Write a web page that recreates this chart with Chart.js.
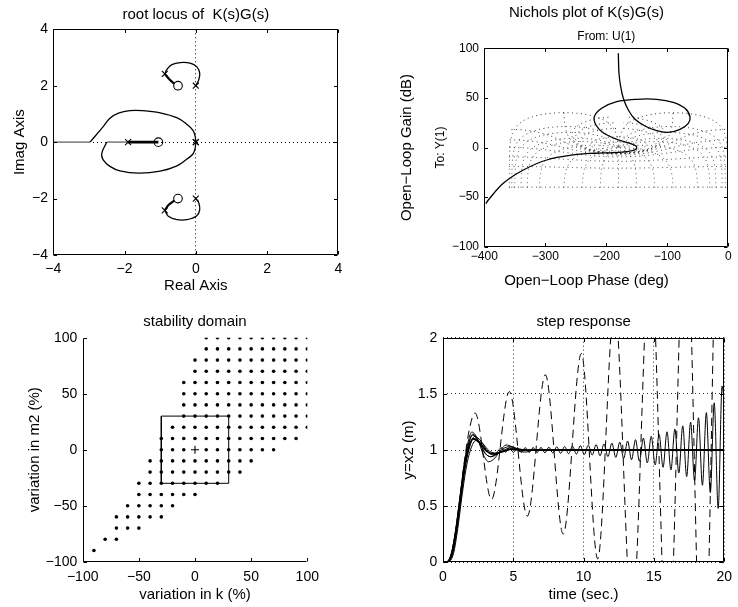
<!DOCTYPE html>
<html>
<head>
<meta charset="utf-8">
<title>Controller analysis</title>
<script src="https://cdn.jsdelivr.net/npm/chart.js@4.4.1/dist/chart.umd.min.js"></script>
<style>
html, body { margin: 0; padding: 0; background: #fff; overflow: hidden; }
#wrap { position: relative; width: 738px; height: 607px; overflow: hidden; background: #fff; }
#wrap canvas { position: absolute; }
</style>
</head>
<body>
<div id="wrap">
  <canvas id="c1" width="369" height="300" style="left:0px;top:0px;width:369px;height:300px;"></canvas>
  <canvas id="c2" width="377" height="300" style="left:398px;top:0px;width:377px;height:300px;"></canvas>
  <canvas id="c3" width="369" height="307" style="left:0px;top:300px;width:369px;height:307px;"></canvas>
  <canvas id="c4" width="369" height="307" style="left:369px;top:300px;width:369px;height:307px;"></canvas>
</div>
<script>
// ================= DATA =================
// --- root locus ---
const rlTicks = [-4, -2, 0, 2, 4];
const rlPoles = [[0,0],[0,0],[0,2],[0,-2],[-0.87,2.42],[-0.87,-2.42],[-1.9,0]];
const rlZeros = [[-1.05,0],[-0.5,2],[-0.5,-2]];
const rlLoopUpper = [[0,0],[-0.02,0.22],[-0.08,0.42],[-0.24,0.62],[-0.52,0.86],[-1.0,1.04],[-1.5,1.12],[-1.85,1.12],[-2.17,1.03],[-2.41,0.85],[-2.6,0.55],[-2.97,0]];
const rlLoopLower = [[0,0],[-0.02,-0.22],[-0.08,-0.42],[-0.25,-0.6],[-0.53,-0.84],[-1.0,-1.03],[-1.6,-1.1],[-2.13,-1.02],[-2.41,-0.86],[-2.6,-0.63],[-2.64,-0.4],[-2.5,0]];
const rlRealThick = [[-1.9,0],[-1.05,0]];
const rlRealLeft = [[-4,0],[-2.97,0]];
const rlRealMid = [[-2.5,0],[-1.9,0]];
const rlSmallUpper = [[0,2],[0.08,2.2],[0.11,2.44],[0.03,2.67],[-0.16,2.8],[-0.44,2.82],[-0.67,2.75],[-0.81,2.58],[-0.87,2.42]];
const rlSmallUpperEnd = [[-0.87,2.42],[-0.73,2.21],[-0.6,2.07]];
const rlSmallLower = [[0,-2],[0.08,-2.14],[0.11,-2.4],[0.02,-2.62],[-0.25,-2.75],[-0.53,-2.75],[-0.77,-2.63],[-0.87,-2.42]];
const rlSmallLowerEnd = [[-0.87,-2.42],[-0.76,-2.22],[-0.6,-2.07]];

// --- Nichols ---
const nicTicksX = [-400, -300, -200, -100, 0];
const nicTicksY = [-100, -50, 0, 50, 100];
const nicCurve = [[-180.3,95],[-179.2,74.8],[-176.4,61.3],[-172.1,49.6],[-163.9,37.8],[-152.9,28.4],[-136.6,21.7],[-117.4,16.9],[-98.4,15.3],[-79.2,18.3],[-65.6,24.4],[-62.8,31.0],[-71.0,39.5],[-90.2,45.6],[-117.4,48.6],[-150.2,48.6],[-183,46.2],[-207.6,39.5],[-219.7,31.0],[-216.9,22.7],[-205,14.9],[-183,8.3],[-161.2,4.2],[-151.3,1.5],[-151.3,-1.8],[-166.6,-4.2],[-188.5,-5.2],[-218.5,-5.8],[-254,-7.5],[-297.7,-12.6],[-336,-22.7],[-368.9,-36.1],[-393.4,-52.9],[-397.5,-56.5]];
// Nichols chart grid levels (closed-loop gain in dB, closed-loop phase in deg)
const ngridGainDb = [6, 3, 1, 0.5, 0.25, 0, -1, -3, -6, -12, -20, -40];
const ngridPhaseDeg = [1, 5, 10, 20, 30, 50, 90, 120, 150, 180];

// --- stability domain ---
const stabTicks = [-100, -50, 0, 50, 100];
const stabRowM = [100, 90, 80, 70, 60, 50, 40, 30, 20, 10, 0, -10, -20, -30, -40, -50, -60, -70, -80, -90];
const stabRowK = [
  [10,20,30,40,50,60,70,80,90,100],
  [10,20,30,40,50,60,70,80,90,100],
  [0,10,20,30,40,50,60,70,80,90,100],
  [0,10,20,30,40,50,60,70,80,90,100],
  [-10,0,10,20,30,40,50,60,70,80,90,100],
  [-10,0,10,20,30,40,50,60,70,80,90,100],
  [-10,0,10,20,30,40,50,60,70,80,90,100],
  [-10,0,10,20,30,40,50,60,70,80,90,100],
  [-20,-10,0,10,20,30,40,50,60,70,80,90,100],
  [-30,-20,-10,0,10,20,30,40,50,60,70,80,90],
  [-30,-20,-10,10,20,30,40,50,60,70],
  [-40,-30,-20,-10,0,10,20,30,40,50],
  [-40,-30,-20,-10,0,10,20,30,40],
  [-50,-40,-30,-20,-10,0,10,20],
  [-50,-40,-30,-20,-10,0],
  [-60,-50,-40,-30,-20],
  [-70,-60,-50,-40,-30],
  [-70,-60,-50],
  [-80,-70],
  [-90]
];
const stabBox = [[-30,-30],[30,-30],[30,30],[-30,30],[-30,-30]];
const stabNominal = [[0,0]];

// --- step response ---
const stepTicksX = [0, 5, 10, 15, 20];
const stepTicksY = [0, 0.5, 1, 1.5, 2];
const stepNominal = [[0,0],[0.3,0.004],[0.6,0.07],[0.9,0.26],[1.2,0.54],[1.5,0.82],[1.8,1.01],[2.15,1.1],[2.6,1.065],[3.1,0.99],[3.6,0.965],[4.2,0.985],[4.9,1.008],[5.6,1.0],[6.5,0.998],[20,1.0]];
const stepA = [[0,0],[0.3,0.004],[0.6,0.08],[0.9,0.29],[1.2,0.58],[1.5,0.87],[1.8,1.08],[2.05,1.16],[2.45,1.1],[2.9,0.95],[3.25,0.895],[3.7,0.93],[4.1,1.0],[4.5,1.045],[4.9,1.03],[5.4,0.99],[5.9,0.982],[6.6,1.005],[7.4,1.0],[20,1.0]];
const stepB = [[0,0],[0.35,0.004],[0.65,0.07],[0.95,0.27],[1.25,0.56],[1.55,0.85],[1.85,1.06],[2.1,1.14],[2.5,1.09],[3.0,0.97],[3.45,0.94],[3.9,0.97],[4.4,1.02],[4.85,1.03],[5.4,1.005],[6.0,0.995],[7.0,1.002],[20,1.0]];
const stepC = [[0,0],[0.35,0.003],[0.7,0.08],[1.0,0.3],[1.3,0.6],[1.6,0.86],[1.9,1.03],[2.25,1.12],[2.7,1.08],[3.2,0.98],[3.65,0.955],[4.2,0.99],[4.8,1.02],[5.4,1.01],[6.2,0.995],[7.2,1.0],[20,1.0]];
const stepD = [[0,0],[0.4,0.004],[0.75,0.08],[1.05,0.3],[1.35,0.59],[1.65,0.84],[1.95,1.0],[2.35,1.085],[2.8,1.06],[3.3,0.99],[3.8,0.972],[4.4,0.99],[5.0,1.01],[5.8,1.0],[20,1.0]];
const stepUnstable = [[0,0],[0.3,0.005],[0.6,0.075],[0.9,0.28],[1.2,0.56],[1.5,0.85],[1.8,1.05],[2.1,1.13],[2.5,1.08],[3.0,0.97],[3.4,0.94],[3.8,0.975],[4.15,1.02],
  [4.45,0.98],[4.73,1.02],[5.01,0.979],[5.29,1.021],[5.57,0.979],[5.85,1.021],[6.13,0.978],[6.41,1.022],[6.69,0.977],[6.97,1.023],
  [7.25,0.975],[7.53,1.025],[7.81,0.973],[8.09,1.028],[8.37,0.97],[8.65,1.031],[8.93,0.967],[9.21,1.034],[9.49,0.964],[9.77,1.038],
  [10.05,0.96],[10.33,1.043],[10.61,0.955],[10.89,1.048],[11.17,0.949],[11.45,1.054],[11.73,0.942],[12.01,1.061],[12.29,0.934],[12.57,1.07],
  [12.85,0.925],[13.13,1.08],[13.41,0.913],[13.69,1.092],[13.97,0.9],[14.25,1.106],[14.53,0.885],[14.81,1.122],[15.09,0.867],[15.37,1.14],
  [15.65,0.846],[15.93,1.162],[16.21,0.822],[16.49,1.187],[16.77,0.795],[17.05,1.215],[17.33,0.764],[17.61,1.248],[17.89,0.728],[18.17,1.287],
  [18.45,0.686],[18.73,1.333],[19.01,0.62],[19.29,1.42],[19.57,0.48],[19.85,1.57],[20.0,1.42]];
const stepDashed = [[0,0],[0.3,0.003],[0.7,0.12],[1.1,0.45],[1.5,0.88],[1.9,1.2],[2.28,1.33],[3.45,0.56],[4.72,1.52],[6.0,0.41],[7.28,1.67],[8.55,0.25],[9.84,1.86],[11.0,0.03],[12.2,2.3],[13.45,-0.5],[14.75,2.8],[16.0,-1.0],[17.25,3.3],[18.5,-1.5],[19.7,3.9],[20.5,-1.0]];

// ================= HELPERS =================
const FONT = "'Liberation Sans', Arial, Helvetica, sans-serif";
Chart.defaults.font.family = FONT;
Chart.defaults.color = '#000';

function fmtTick(v) { return String(v).replace('-', '\u2212'); }
function P(arr) { return arr.map(p => ({x: p[0], y: p[1]})); }

function lineDs(data, o) {
  return Object.assign({type: 'scatter', data: P(data), showLine: true, borderColor: '#000', backgroundColor: '#000',
    borderWidth: 1.2, pointRadius: 0, pointHoverRadius: 0, tension: 0, fill: false}, o || {});
}
function markDs(data, o) {
  return Object.assign({type: 'scatter', data: P(data), showLine: false, borderColor: '#000', backgroundColor: 'rgba(0,0,0,0)',
    borderWidth: 1, pointRadius: 4, pointHoverRadius: 4}, o || {});
}

function makeAxis(o) {
  const horiz = o.position === 'top' || o.position === 'bottom';
  return {
    type: 'linear', position: o.position, min: o.min, max: o.max, weight: o.weight || 0,
    fullSize: !!o.fullSize, display: true,
    afterBuildTicks: (s) => { s.ticks = (o.ticks || []).map(v => ({value: v})); },
    afterFit: (s) => { if (horiz) s.height = o.size; else s.width = o.size; },
    ticks: {display: !!o.ticks, autoSkip: false, maxRotation: 0, minRotation: 0, padding: o.tickPad || 0,
      font: {size: o.tickSize || 14, family: FONT}, color: '#000', callback: (v) => fmtTick(v)},
    grid: {display: !!o.gridColor, drawTicks: false, drawOnChartArea: true, color: o.gridColor || 'rgba(0,0,0,0)', lineWidth: 1},
    border: {display: false, dash: o.gridDash || []},
    title: {display: !!o.title, text: o.title || '', font: {size: o.titleSize || 15, family: FONT}, color: '#000',
      padding: {top: o.titlePad || 0, bottom: o.titlePad || 0}}
  };
}

function common(o) {
  return {
    responsive: false, animation: false, devicePixelRatio: 1, events: [],
    layout: {padding: o.padding},
    plugins: {
      legend: {display: false}, tooltip: {enabled: false},
      title: o.title, subtitle: o.subtitle || {display: false},
      frame: o.frame
    },
    scales: o.scales
  };
}

const framePlugin = {
  id: 'frame',
  afterDatasetsDraw(chart, args, opts) {
    const a = chart.chartArea, ctx = chart.ctx;
    const xs = chart.scales.x, ys = chart.scales.y;
    const L = Math.round(a.left) + 0.5, R = Math.round(a.right) - 0.5;
    const T = Math.round(a.top) + 0.5, B = Math.round(a.bottom) - 0.5;
    const len = opts.tickLen || 3.5;
    ctx.save();
    ctx.setLineDash([]);
    ctx.strokeStyle = '#000';
    ctx.lineWidth = 1;
    ctx.beginPath();
    if (opts.full) { ctx.rect(L, T, R - L, B - T); }
    else { ctx.moveTo(L, T); ctx.lineTo(L, B); ctx.lineTo(R, B); }
    xs.ticks.forEach(t => {
      const p = Math.round(xs.getPixelForValue(t.value)) + 0.5;
      ctx.moveTo(p, B); ctx.lineTo(p, B - len);
      if (opts.full) { ctx.moveTo(p, T); ctx.lineTo(p, T + len); }
    });
    ys.ticks.forEach(t => {
      const p = Math.round(ys.getPixelForValue(t.value)) + 0.5;
      ctx.moveTo(L, p); ctx.lineTo(L + len, p);
      if (opts.full) { ctx.moveTo(R, p); ctx.lineTo(R - len, p); }
    });
    ctx.stroke();
    ctx.restore();
  }
};

const zeroOnly = (ctx) => (ctx.tick && ctx.tick.value === 0) ? '#000' : 'rgba(0,0,0,0)';

// ================= 1. ROOT LOCUS =================
new Chart(document.getElementById('c1'), {
  type: 'scatter',
  data: {datasets: [
    markDs(rlPoles, {pointStyle: 'crossRot', pointRadius: 4.2, borderWidth: 1.1}),
    markDs(rlZeros, {pointStyle: 'circle', pointRadius: 4.3, borderWidth: 1.1}),
    lineDs(rlRealThick, {borderWidth: 2.6}),
    lineDs(rlSmallUpperEnd, {borderWidth: 2.2, tension: 0.3}),
    lineDs(rlSmallLowerEnd, {borderWidth: 2.2, tension: 0.3}),
    lineDs(rlLoopUpper, {tension: 0.4, borderWidth: 1.3}),
    lineDs(rlLoopLower, {tension: 0.4, borderWidth: 1.3}),
    lineDs(rlSmallUpper, {tension: 0.4, borderWidth: 1.3}),
    lineDs(rlSmallLower, {tension: 0.4, borderWidth: 1.3}),
    lineDs(rlRealLeft, {borderColor: '#8a8a8a', borderWidth: 1.6}),
    lineDs(rlRealMid, {borderColor: '#8a8a8a', borderWidth: 1.6})
  ]},
  options: common({
    padding: {left: 0, right: 30.7, top: 0, bottom: 0},
    title: {display: true, text: 'root locus of  K(s)G(s)', fullSize: false, font: {size: 15, weight: 'normal'}, color: '#000', padding: {top: 6, bottom: 5.3}},
    frame: {full: true},
    scales: {
      x: makeAxis({position: 'bottom', min: -4, max: 4, ticks: rlTicks, size: 45, tickPad: 5.6, tickSize: 14, title: 'Real Axis', titleSize: 15, titlePad: 5, gridColor: zeroOnly, gridDash: [1, 3]}),
      y: makeAxis({position: 'left', min: -4, max: 4, ticks: rlTicks, size: 53.3, tickPad: 5.3, tickSize: 14, title: 'Imag Axis', titleSize: 15, titlePad: 11, gridColor: zeroOnly, gridDash: [1, 3]})
    }
  }),
  plugins: [framePlugin]
});

// ================= 2. NICHOLS =================
function olPoint(m, th) {
  const tr = m * Math.cos(th), ti = m * Math.sin(th);
  const dr = 1 - tr, di = -ti, den = dr * dr + di * di;
  const re = (tr * dr + ti * di) / den, im = (ti * dr - tr * di) / den;
  let ph = Math.atan2(im, re) * 180 / Math.PI;
  if (ph > 0) ph -= 360;
  return {x: ph, y: 20 * Math.log10(Math.hypot(re, im))};
}
function nicholsGridSets() {
  const sets = [];
  const push = (arr) => sets.push({type: 'scatter', data: arr, showLine: true, borderColor: 'rgba(0,0,0,0.8)', borderWidth: 1,
    borderDash: [1, 3.5], pointRadius: 0, pointHoverRadius: 0, tension: 0, spanGaps: false});
  ngridGainDb.forEach(g => {
    const m = Math.pow(10, g / 20), arr = [];
    for (let k = 1; k < 720; k++) {
      const p = olPoint(m, k * Math.PI / 360);
      arr.push((p.y > 35.5 || p.y < -41) ? {x: p.x, y: NaN} : p);
    }
    push(arr);
  });
  ngridPhaseDeg.forEach(th => {
    (th === 180 ? [1] : [1, -1]).forEach(s => {
      const arr = [];
      for (let k = 0; k <= 1600; k++) {
        const m = Math.pow(10, -2.1 + k * 4.1 / 1600);
        const p = olPoint(m, s * th * Math.PI / 180);
        if (p.y < -40.5 || p.y > 35.5) continue;
        arr.push(p);
      }
      push(arr);
    });
  });
  return sets;
}

new Chart(document.getElementById('c2'), {
  type: 'scatter',
  data: {datasets: [lineDs(nicCurve, {tension: 0.35, borderWidth: 1.3})].concat(nicholsGridSets())},
  options: common({
    padding: {left: 0, right: 0, top: 0, bottom: 0},
    title: {display: true, text: 'Nichols plot of K(s)G(s)', fullSize: true, font: {size: 15, weight: 'normal'}, color: '#000', padding: {top: 4, bottom: 0}},
    subtitle: {display: true, text: 'From: U(1)', fullSize: false, font: {size: 12, weight: 'normal'}, color: '#000', padding: {top: 7.8, bottom: 4.1}},
    frame: {full: true},
    scales: {
      x: makeAxis({position: 'bottom', weight: 0, min: -400, max: 0, ticks: nicTicksX, size: 18, tickPad: 3.1, tickSize: 12}),
      x2: makeAxis({position: 'bottom', weight: 1, fullSize: true, min: -400, max: 0, size: 35.3, title: 'Open\u2212Loop Phase (deg)', titleSize: 15, titlePad: 10}),
      y: makeAxis({position: 'left', weight: 0, min: -100, max: 100, ticks: nicTicksY, size: 56.3, tickPad: 5.3, tickSize: 12, title: 'To: Y(1)', titleSize: 12, titlePad: 5.8}),
      y2: makeAxis({position: 'left', weight: 1, min: -100, max: 100, size: 30, title: 'Open\u2212Loop Gain (dB)', titleSize: 15, titlePad: 0}),
      yr: makeAxis({position: 'right', weight: 0, min: -100, max: 100, size: 46.7})
    }
  }),
  plugins: [framePlugin]
});

// ================= 3. STABILITY DOMAIN =================
const stabPoints = [];
stabRowM.forEach((m, i) => stabRowK[i].forEach(k => stabPoints.push([k, m])));

new Chart(document.getElementById('c3'), {
  type: 'scatter',
  data: {datasets: [
    markDs(stabNominal, {pointStyle: 'cross', pointRadius: 4, borderWidth: 1.1}),
    lineDs(stabBox, {borderWidth: 1}),
    markDs(stabPoints, {pointStyle: 'circle', pointRadius: 1.8, borderWidth: 0, backgroundColor: '#000'})
  ]},
  options: common({
    padding: {left: 0, right: 61.7, top: 0, bottom: 0},
    title: {display: true, text: 'stability domain', fullSize: false, font: {size: 15, weight: 'normal'}, color: '#000', padding: {top: 12.7, bottom: 7}},
    frame: {full: false},
    scales: {
      x: makeAxis({position: 'bottom', min: -100, max: 100, ticks: stabTicks, size: 45.3, tickPad: 6.6, tickSize: 14, title: 'variation in k (%)', titleSize: 15, titlePad: 3}),
      y: makeAxis({position: 'left', min: -100, max: 100, ticks: stabTicks, size: 82.7, tickPad: 5.4, tickSize: 14, title: 'variation in m2 (%)', titleSize: 15, titlePad: 26})
    }
  }),
  plugins: [framePlugin]
});

// ================= 4. STEP RESPONSE =================
const mono = {cubicInterpolationMode: 'monotone', borderWidth: 1};
new Chart(document.getElementById('c4'), {
  type: 'scatter',
  data: {datasets: [
    lineDs(stepNominal, Object.assign({}, mono, {borderWidth: 1.8})),
    lineDs(stepA, mono),
    lineDs(stepB, mono),
    lineDs(stepC, mono),
    lineDs(stepD, mono),
    lineDs(stepUnstable, mono),
    lineDs(stepDashed, Object.assign({}, mono, {borderDash: [8, 5]}))
  ]},
  options: common({
    padding: {left: 0, right: 9.7, top: 0, bottom: 0},
    title: {display: true, text: 'step response', fullSize: false, font: {size: 15, weight: 'normal'}, color: '#000', padding: {top: 12.7, bottom: 7}},
    frame: {full: true},
    scales: {
      x: makeAxis({position: 'bottom', min: 0, max: 20, ticks: stepTicksX, size: 44.7, tickPad: 6, tickSize: 14, title: 'time (sec.)', titleSize: 15, titlePad: 3, gridColor: '#333', gridDash: [1, 3]}),
      y: makeAxis({position: 'left', min: 0, max: 2, ticks: stepTicksY, size: 74, tickPad: 5.7, tickSize: 14, title: 'y=x2 (m)', titleSize: 15, titlePad: 31, gridColor: '#333', gridDash: [1, 3]})
    }
  }),
  plugins: [framePlugin]
});
</script>
</body>
</html>
